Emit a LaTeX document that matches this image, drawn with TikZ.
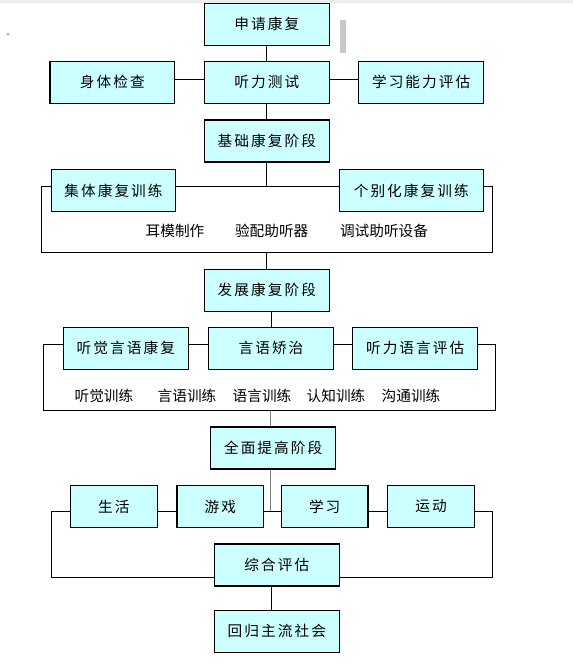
\documentclass[tikz,border=0pt]{standalone}
\usepackage{fontspec}
\newfontfamily\cjk{Noto Sans CJK SC}
\newfontfamily\cjkbox[LetterSpace=14]{Noto Sans CJK SC}
\usetikzlibrary{positioning}
\definecolor{boxcyan}{RGB}{204,255,255}
\definecolor{barcolor}{RGB}{200,200,200}

\begin{document}
\begin{tikzpicture}[x=0.75pt, y=-0.75pt,
    stagebox/.style={draw, rectangle, fill=boxcyan, line width=0.9pt,
                     minimum width=93.5pt, minimum height=31.5pt,
                     inner sep=0pt, text centered,
                     font=\fontsize{11}{13}\selectfont\cjkbox},
    widebox/.style={stagebox, minimum width=108pt},
    smallbox/.style={stagebox, minimum width=65pt, minimum height=31pt},
    lnk/.style={line width=0.75pt},
    glnk/.style={lnk, draw=gray},
    itemtxt/.style={font=\fontsize{11}{13}\selectfont\cjk, inner sep=0pt}
  ]
    \useasboundingbox (0,0) rectangle (573,668);
    \fill[black!7] (0,0) rectangle (573,2.5);
    \fill[gray!60] (6,33.3) -- (10,33.3) -- (8,35.8) -- cycle;
    \fill[barcolor] (340,20) rectangle (346,52.7);

    % 方框
    \node[stagebox] (apply) at (266.8,24.3) {申请康复};
    \node[stagebox] (hear)  at (266.8,82.3) {听力测试};
    \node[stagebox, left=21.4pt of hear]  (body)  {身体检查};
    \node[stagebox, right=21.4pt of hear] (learn) {学习能力评估};
    \node[stagebox] (basic) at (266.8,141) {基础康复阶段};
    \node[stagebox] (group) at (113.5,190.5) {集体康复训练};
    \node[widebox]  (indiv) at (411.3,190.5) {个别化康复训练};

    \node[stagebox] (dev) at (266.8,290.2) {发展康复阶段};
    \node[stagebox] (listen) at (125.8,348.3) {听觉言语康复};
    \node[stagebox, right=14.5pt of listen] (speech) {言语矫治};
    \node[stagebox, right=13.75pt of speech] (assess) {听力语言评估};

    \node[stagebox] (full) at (273.2,448) {全面提高阶段};
    \node[smallbox] (life) at (113.8,506.5) {生活};
    \node[smallbox, right=14pt of life]    (game)  {游戏};
    \node[smallbox, right=12.4pt of game]  (study) {学习};
    \node[smallbox, right=13.9pt of study] (sport) {运动};
    \node[stagebox] (eval) at (276.8,565)   {综合评估};
    \node[stagebox] (back) at (276.8,631.3) {回归主流社会};

    % 括号内的文字
    \node[itemtxt] (ear)  at (175,231)   {耳模制作};
    \node[itemtxt] (fit)  at (271.7,231) {验配助听器};
    \node[itemtxt] (tune) at (384,231)   {调试助听设备};
    \node[itemtxt] (t1) at (104,396) {听觉训练};
    \node[itemtxt] (t2) at (187,396) {言语训练};
    \node[itemtxt] (t3) at (262,396) {语言训练};
    \node[itemtxt] (t4) at (336,396) {认知训练};
    \node[itemtxt] (t5) at (411,396) {沟通训练};

    % 连线的转角
    \coordinate (lv2)  at (0,79);
    \coordinate (b1l)  at (41.7,186);
    \coordinate (b1r)  at (492.3,186);
    \coordinate (b1bl) at (41.7,252.7);
    \coordinate (b1br) at (492.3,252.7);
    \coordinate (b2l)  at (43.3,344.3);
    \coordinate (b2r)  at (495.7,344.3);
    \coordinate (b2bl) at (43.3,410.7);
    \coordinate (b2br) at (495.7,410.7);
    \coordinate (gx)   at (270.3,410.7);
    \coordinate (b3l)  at (51.5,511);
    \coordinate (b3r)  at (492,511);
    \coordinate (b3bl) at (51.5,577);
    \coordinate (b3br) at (492,577);
    \coordinate (ex)   at (271.3,0);

    % 连线
    \draw[lnk] (apply) -- (hear);
    \draw[lnk] (hear) -- (basic);
    \draw[lnk] (body.east |- lv2) -- (hear.west |- lv2);
    \draw[lnk] (hear.east |- lv2) -- (learn.west |- lv2);

    \draw[lnk] (basic.south) -- (basic.south |- b1l);
    \draw[lnk] (group.west |- b1l) -- (b1l) -- (b1bl) -- (b1br) -- (b1r) -- (indiv.east |- b1r);
    \draw[lnk] (group.east |- b1l) -- (indiv.west |- b1l);
    \draw[lnk] (dev.north |- b1bl) -- (dev.north);

    \draw[lnk] (speech.north |- dev.south) -- (speech.north);
    \draw[lnk] (listen.west |- b2l) -- (b2l) -- (b2bl) -- (b2br) -- (b2r) -- (assess.east |- b2r);
    \draw[lnk] (listen.east |- b2l) -- (speech.west |- b2l);
    \draw[lnk] (speech.east |- b2l) -- (assess.west |- b2l);

    \draw[glnk] (gx) -- (gx |- full.north);
    \draw[glnk] (gx |- full.south) -- (gx |- b3l);
    \draw[lnk] (life.west |- b3l) -- (b3l) -- (b3bl) -- (eval.west |- b3bl);
    \draw[lnk] (eval.east |- b3br) -- (b3br) -- (b3r) -- (sport.east |- b3r);
    \draw[lnk] (life.east |- b3l) -- (game.west |- b3l);
    \draw[lnk] (game.east |- b3l) -- (study.west |- b3l);
    \draw[lnk] (study.east |- b3l) -- (sport.west |- b3l);
    \draw[lnk] (ex |- eval.south) -- (ex |- back.north);
\end{tikzpicture}
\end{document}
